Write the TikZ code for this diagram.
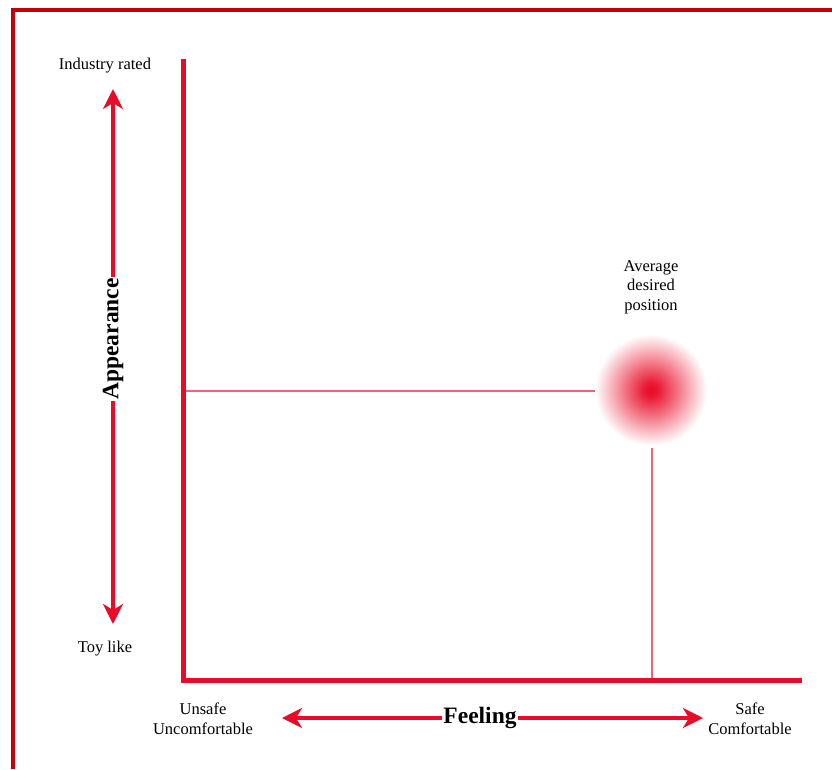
\documentclass[tikz,border=0pt]{standalone}
\usepackage{fontspec}
\setmainfont{Liberation Serif}
\usetikzlibrary{arrows.meta}
\definecolor{axred}{RGB}{232,12,40}
\definecolor{frame}{RGB}{196,0,12}
\definecolor{guide}{RGB}{240,100,115}
\pgfdeclareradialshading{glow}{\pgfpoint{0bp}{0bp}}{color(0bp)=(axred); color(3bp)=(axred!95!white); color(10bp)=(axred!65!white); color(18bp)=(axred!30!white); color(25bp)=(white); color(50bp)=(white)}
\tikzset{
  lbl/.style={font=\fontsize{16.5}{20}\selectfont, align=center, inner sep=1pt},
  bigl/.style={font=\fontsize{23.5}{26}\selectfont\bfseries, fill=white, inner sep=1pt},
  dblarrow/.style={axred, line width=3.5pt, {Stealth[length=20pt,width=20pt,inset=6pt]}-{Stealth[length=20pt,width=20pt,inset=6pt]}},
  axis/.style={axred, line width=5pt},
  guideline/.style={guide, line width=2pt}
}
\begin{document}
\begin{tikzpicture}[x=1pt,y=-1pt]
\useasboundingbox (0,0) rectangle (832,769);
% frame
\draw[frame, line width=4pt] (12.5,769) -- (12.5,10) -- (832,10);
% guides
\coordinate (gc) at (651,390);
\coordinate (hy) at (183,391);
\coordinate (hx) at (595,391);
\coordinate (vt) at (652,448);
\coordinate (vb) at (652,679);
\draw[guideline] (hy) -- (hx);
\draw[guideline] (vt) -- (vb);
% glow
\shade[shading=glow] (gc) circle (56);
% axes
\coordinate (ytop) at (183,61);
\coordinate (orig) at (183,680);
\coordinate (xend) at (799,680);
\draw[axis, line cap=rect] (ytop) -- (orig) -- (xend);
% appearance arrow
\coordinate (at) at (113,89);
\coordinate (ab) at (113,624);
\draw[dblarrow] (ab) -- (at);
\node[bigl, rotate=90] (app) at (113,339) {Appearance};
% feeling arrow
\coordinate (fl) at (282,718);
\coordinate (fr) at (703,718);
\draw[dblarrow] (fl) -- (fr);
\node[bigl] (feel) at (480,718) {Feeling};
% labels
\node[lbl] (ind) at (105,66) {Industry rated};
\node[lbl] (toy) at (105,649) {Toy like};
\node[lbl] (uns) at (203,719) {Unsafe\\Uncomfortable};
\node[lbl] (saf) at (750,719) {Safe\\Comfortable};
\node[lbl, font=\fontsize{16.5}{19.5}\selectfont] (avg) at (651,287) {Average\\desired\\position};
\end{tikzpicture}
\end{document}
